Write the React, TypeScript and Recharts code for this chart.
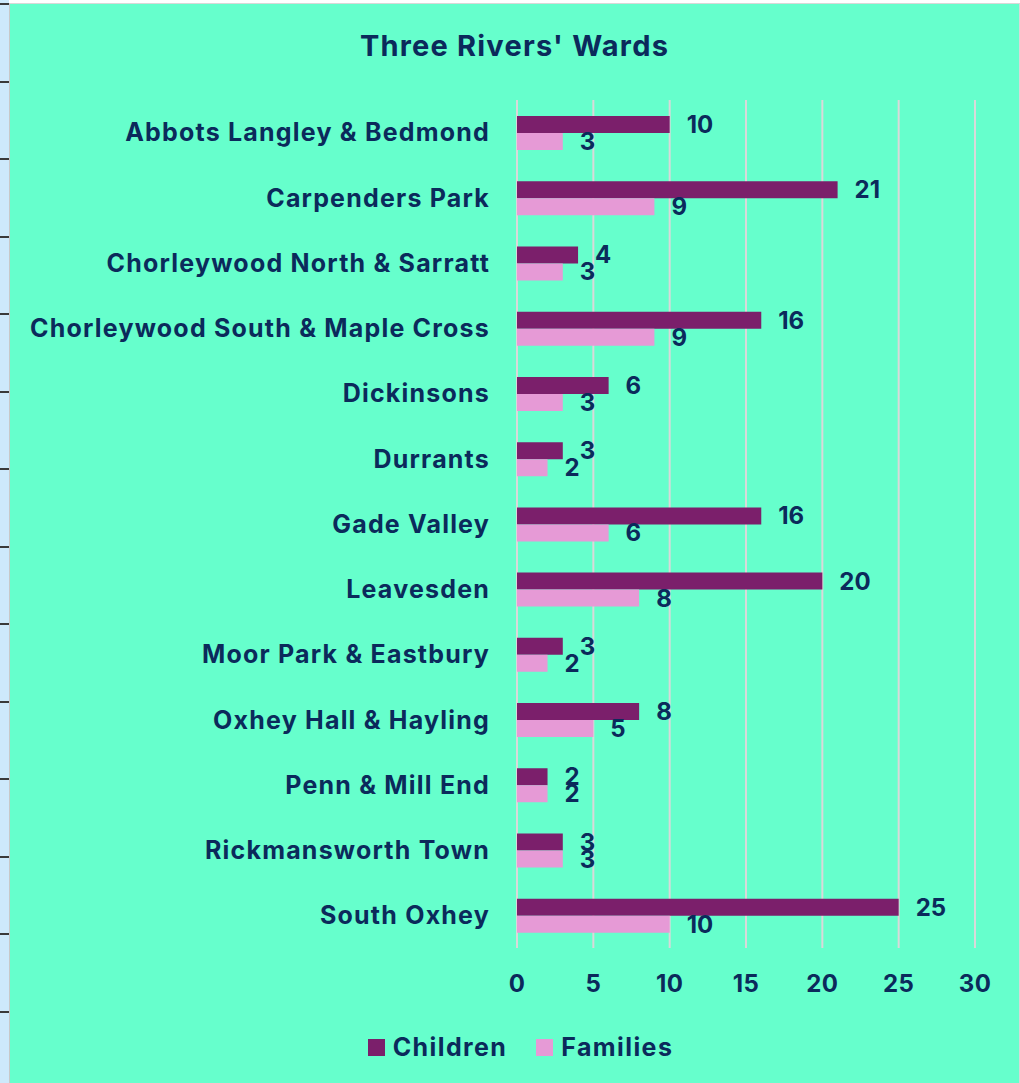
import React from 'react';
import { BarChart, Bar, XAxis, YAxis, CartesianGrid, LabelList, Legend } from 'recharts';

const wards = [
  'Abbots Langley & Bedmond',
  'Carpenders Park',
  'Chorleywood North & Sarratt',
  'Chorleywood South & Maple Cross',
  'Dickinsons',
  'Durrants',
  'Gade Valley',
  'Leavesden',
  'Moor Park & Eastbury',
  'Oxhey Hall & Hayling',
  'Penn & Mill End',
  'Rickmansworth Town',
  'South Oxhey',
];
const children = [10, 21, 4, 16, 6, 3, 16, 20, 3, 8, 2, 3, 25];
const families = [3, 9, 3, 9, 3, 2, 6, 8, 2, 5, 2, 3, 10];
const xTicks = [0, 5, 10, 15, 20, 25, 30];

const data = wards.map((w, i) => ({ ward: w, children: children[i], families: families[i] }));

const NAVY = '#0b2a5b';
const PLUM = '#7b1f6b';
const PINK = '#e69ad6';
const FONT = 'Inter, "Liberation Sans", sans-serif';

const LegendBox = () => (
  <div
    style={{
      display: 'flex',
      justifyContent: 'center',
      gap: 29,
      paddingTop: 14,
      paddingLeft: 56,
      fontFamily: FONT,
      fontWeight: 700,
      fontSize: 25,
      letterSpacing: 1.4,
      color: NAVY,
    }}
  >
    {[
      { name: 'Children', color: PLUM },
      { name: 'Families', color: PINK },
    ].map((it) => (
      <span key={it.name} style={{ display: 'flex', alignItems: 'center', gap: 8 }}>
        <span style={{ width: 17, height: 17, background: it.color, display: 'inline-block' }} />
        {it.name}
      </span>
    ))}
  </div>
);

export default function App() {
  const stripTicks = Array.from({ length: 14 }, (_, i) => 3 + i * 77.5);
  const tickStyle = { fill: NAVY, fontSize: 25, fontWeight: 700, fontFamily: FONT, letterSpacing: 1.2 };
  const labelProps = { fill: NAVY, fontSize: 24, fontWeight: 700, fontFamily: FONT };
  return (
    <div style={{ position: 'fixed', left: 0, top: 0, width: 1020, height: 1083, background: '#ffffff', overflow: 'hidden' }}>
      <div style={{ position: 'absolute', left: 0, top: 0, width: 9, height: 1083, background: '#cde9fb' }} />
      {stripTicks.map((y) => (
        <div key={y} style={{ position: 'absolute', left: 0, top: y, width: 9, height: 2, background: '#3a3a3a' }} />
      ))}
      <div
        style={{
          position: 'absolute',
          left: 9,
          top: 3,
          width: 1009,
          height: 1080,
          background: '#66ffcc',
          borderLeft: '1px solid #c8c8c8',
          borderTop: '1px solid #d8d8d8',
          borderRight: '1px solid #d8d8d8',
        }}
      >
        <div
          style={{
            position: 'absolute',
            left: 0,
            width: 1009,
            top: 24,
            textAlign: 'center',
            fontFamily: FONT,
            fontWeight: 700,
            fontSize: 29,
            letterSpacing: 1.2,
            color: NAVY,
          }}
        >
          Three Rivers' Wards
        </div>
        <BarChart
          width={1009}
          height={1079}
          data={data}
          layout="vertical"
          margin={{ top: 96, right: 44, bottom: 0, left: 0 }}
          barCategoryGap={16}
          barGap={0}
        >
          <CartesianGrid horizontal={false} stroke="#d9d9d9" strokeWidth={2} />
          <XAxis
            type="number"
            domain={[0, 30]}
            ticks={xTicks}
            axisLine={false}
            tickLine={false}
            tickSize={0}
            tickMargin={27}
            height={70}
            tick={{ ...tickStyle, fontSize: 24, letterSpacing: 0.5 }}
          />
          <YAxis
            type="category"
            dataKey="ward"
            width={507}
            axisLine={false}
            tickLine={false}
            tickSize={0}
            tickMargin={27}
            interval={0}
            tick={tickStyle}
          />
          <Legend verticalAlign="bottom" height={65} content={<LegendBox />} />
          <Bar dataKey="children" name="Children" fill={PLUM} isAnimationActive={false}>
            <LabelList dataKey="children" position="right" offset={17} {...labelProps} />
          </Bar>
          <Bar dataKey="families" name="Families" fill={PINK} isAnimationActive={false}>
            <LabelList dataKey="families" position="right" offset={17} {...labelProps} />
          </Bar>
        </BarChart>
      </div>
    </div>
  );
}
